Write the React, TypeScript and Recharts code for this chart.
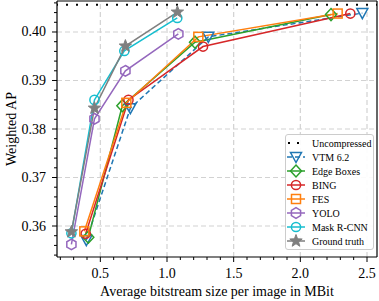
import React from 'react';
import { LineChart, Line, XAxis, YAxis, ReferenceLine, Legend, Label } from 'recharts';

// values (MBit, weighted AP)
const uncompressedAP = 0.4056;

const vtm = [
  { x: 0.395, y: 0.3571 },
  { x: 0.725, y: 0.3843 },
  { x: 1.31, y: 0.399 },
  { x: 2.465, y: 0.4039 },
];
const edgeBoxes = [
  { x: 0.41, y: 0.3577 },
  { x: 0.665, y: 0.3848 },
  { x: 1.21, y: 0.3979 },
  { x: 2.23, y: 0.4036 },
];
const bing = [
  { x: 0.39, y: 0.3584 },
  { x: 0.711, y: 0.386 },
  { x: 1.27, y: 0.397 },
  { x: 2.375, y: 0.4038 },
];
const fes = [
  { x: 0.38, y: 0.3589 },
  { x: 0.695, y: 0.3854 },
  { x: 1.235, y: 0.399 },
  { x: 2.28, y: 0.4038 },
];
const yolo = [
  { x: 0.283, y: 0.3562 },
  { x: 0.456, y: 0.3821 },
  { x: 0.688, y: 0.392 },
  { x: 1.085, y: 0.3996 },
];
const maskRcnn = [
  { x: 0.283, y: 0.3585 },
  { x: 0.456, y: 0.386 },
  { x: 0.68, y: 0.3961 },
  { x: 1.077, y: 0.4029 },
];
const groundTruth = [
  { x: 0.283, y: 0.3588 },
  { x: 0.456, y: 0.3843 },
  { x: 0.688, y: 0.3971 },
  { x: 1.078, y: 0.4041 },
];

const xMajor = [0.5, 1.0, 1.5, 2.0, 2.5];
const xTicks = [0.2, 0.3, 0.4, 0.5, 0.6, 0.7, 0.8, 0.9, 1.0, 1.1, 1.2, 1.3, 1.4, 1.5, 1.6, 1.7, 1.8, 1.9, 2.0, 2.1, 2.2, 2.3, 2.4, 2.5];
const yMajor = [0.36, 0.37, 0.38, 0.39, 0.4];
const yTicks = [0.354, 0.356, 0.358, 0.36, 0.362, 0.364, 0.366, 0.368, 0.37, 0.372, 0.374, 0.376, 0.378, 0.38,
  0.382, 0.384, 0.386, 0.388, 0.39, 0.392, 0.394, 0.396, 0.398, 0.4, 0.402, 0.404, 0.406];

const xDomain: [number, number] = [0.175, 2.575];
const yDomain: [number, number] = [0.35361, 0.40639];

const FONT = "'Liberation Serif', 'Times New Roman', serif";

type Shape = 'tri' | 'diamond' | 'circle' | 'square' | 'hex' | 'star';

const Marker = ({ shape, cx, cy, color }: { shape: Shape; cx: number; cy: number; color: string }) => {
  const sw = 1.5;
  switch (shape) {
    case 'tri':
      return <polygon points={`${cx - 5.5},${cy - 4.5} ${cx + 5.5},${cy - 4.5} ${cx},${cy + 5.5}`} fill="none" stroke={color} strokeWidth={sw} />;
    case 'diamond':
      return <polygon points={`${cx},${cy - 6} ${cx + 5.5},${cy} ${cx},${cy + 6} ${cx - 5.5},${cy}`} fill="none" stroke={color} strokeWidth={sw} />;
    case 'circle':
      return <circle cx={cx} cy={cy} r={4.6} fill="none" stroke={color} strokeWidth={sw} />;
    case 'square':
      return <rect x={cx - 4.5} y={cy - 4.5} width={9} height={9} fill="none" stroke={color} strokeWidth={sw} />;
    case 'hex': {
      const pts = [0, 1, 2, 3, 4, 5].map(i => {
        const a = (Math.PI / 3) * i - Math.PI / 2;
        return `${cx + 5.3 * Math.cos(a)},${cy + 5.3 * Math.sin(a)}`;
      });
      return <polygon points={pts.join(' ')} fill="none" stroke={color} strokeWidth={sw} />;
    }
    case 'star': {
      const pts = [];
      for (let i = 0; i < 10; i++) {
        const r = i % 2 === 0 ? 6.5 : 2.7;
        const a = (Math.PI / 5) * i - Math.PI / 2;
        pts.push(`${cx + r * Math.cos(a)},${cy + r * Math.sin(a)}`);
      }
      return <polygon points={pts.join(' ')} fill={color} stroke={color} strokeWidth={1} />;
    }
  }
  return null;
};

const series = [
  { name: 'VTM 6.2', data: vtm, color: '#1f77b4', shape: 'tri' as Shape, dash: '5 3' },
  { name: 'Edge Boxes', data: edgeBoxes, color: '#2ca02c', shape: 'diamond' as Shape },
  { name: 'BING', data: bing, color: '#d62728', shape: 'circle' as Shape },
  { name: 'FES', data: fes, color: '#ff7f0e', shape: 'square' as Shape },
  { name: 'YOLO', data: yolo, color: '#9467bd', shape: 'hex' as Shape },
  { name: 'Mask R-CNN', data: maskRcnn, color: '#17becf', shape: 'circle' as Shape },
  { name: 'Ground truth', data: groundTruth, color: '#7f7f7f', shape: 'star' as Shape },
];

const isMajorX = (v: number) => xMajor.some(m => Math.abs(m - v) < 1e-6);
const isMajorY = (v: number) => yMajor.some(m => Math.abs(m - v) < 1e-6);

const XTick = (props: any) => {
  const { x, y, payload } = props;
  const major = isMajorX(payload.value);
  return (
    <g>
      <line x1={x} x2={x} y1={y} y2={y + (major ? 5 : 3)} stroke="#000" strokeWidth={1} />
      {major && (
        <text x={x} y={y + 21} textAnchor="middle" fontFamily={FONT} fontSize={14} fill="#000">
          {payload.value.toFixed(1)}
        </text>
      )}
    </g>
  );
};

const YTick = (props: any) => {
  const { x, y, payload } = props;
  const major = isMajorY(payload.value);
  return (
    <g>
      <line x1={x - (major ? 5 : 3)} x2={x} y1={y} y2={y} stroke="#000" strokeWidth={1} />
      {major && (
        <text x={x - 11} y={y} textAnchor="end" dominantBaseline="central" fontFamily={FONT} fontSize={14} fill="#000">
          {payload.value.toFixed(2)}
        </text>
      )}
    </g>
  );
};

const LegendBox = () => (
  <svg width={90} height={117} style={{ display: 'block' }}>
    <rect x={0.5} y={0.5} width={88} height={115} rx={2.5} fill="rgba(255,255,255,0.9)" stroke="#cccccc" strokeWidth={1} />
    <line x1={3} x2={21} y1={9} y2={9} stroke="#000" strokeWidth={2} strokeDasharray="2 7" />
    <text x={27} y={9} dominantBaseline="central" fontFamily={FONT} fontSize={10} fill="#000">Uncompressed</text>
    {series.map((s, i) => {
      const cy = 23 + i * 14;
      return (
        <g key={s.name}>
          <line x1={2} x2={20} y1={cy} y2={cy} stroke={s.color} strokeWidth={1.5} strokeDasharray={s.dash} />
          <Marker shape={s.shape} cx={11} cy={cy} color={s.color} />
          <text x={27} y={cy} dominantBaseline="central" fontFamily={FONT} fontSize={10} fill="#000">{s.name}</text>
        </g>
      );
    })}
  </svg>
);

const gridStroke = '#d2d2d2';

export default function App() {
  return (
    <div style={{ position: 'absolute', left: 0, top: 0, width: 379, height: 301, background: '#fff' }}>
      <LineChart width={379} height={301} margin={{ top: 1, right: 2, bottom: 0, left: 0 }}>
        <XAxis
          type="number"
          dataKey="x"
          domain={xDomain}
          allowDataOverflow
          ticks={xTicks}
          interval={0}
          tick={<XTick />}
          tickLine={false}
          tickSize={0}
          tickMargin={0}
          height={44}
          axisLine={{ stroke: '#000', strokeWidth: 1.2 }}
        >
          <Label
            content={() => (
              <text x={217} y={296} textAnchor="middle" fontFamily={FONT} fontSize={14} fill="#000">
                Average bitstream size per image in MBit
              </text>
            )}
          />
        </XAxis>
        <YAxis
          type="number"
          dataKey="y"
          domain={yDomain}
          allowDataOverflow
          ticks={yTicks}
          interval={0}
          tick={<YTick />}
          tickLine={false}
          tickSize={0}
          tickMargin={0}
          width={57}
          axisLine={{ stroke: '#000', strokeWidth: 1.2 }}
        >
          <Label
            content={() => (
              <text x={11} y={129} transform="rotate(-90 11 129)" textAnchor="middle" dominantBaseline="central" fontFamily={FONT} fontSize={14} fill="#000">
                Weighted AP
              </text>
            )}
          />
        </YAxis>
        {xMajor.map(v => (
          <ReferenceLine key={`gx${v}`} x={v} stroke={gridStroke} strokeWidth={1.2} strokeDasharray="5 3" />
        ))}
        {yMajor.map(v => (
          <ReferenceLine key={`gy${v}`} y={v} stroke={gridStroke} strokeWidth={1.2} strokeDasharray="5 3" />
        ))}
        <ReferenceLine y={uncompressedAP} stroke="#000" strokeWidth={2} strokeDasharray="2 8" strokeDashoffset={-9} />
        <ReferenceLine x={xDomain[1]} stroke="#000" strokeWidth={1.2} ifOverflow="visible" />
        <ReferenceLine y={yDomain[1]} stroke="#000" strokeWidth={1.2} ifOverflow="visible" />
        {series.map(s => (
          <Line
            key={s.name}
            name={s.name}
            data={s.data}
            dataKey="y"
            type="linear"
            stroke={s.color}
            strokeWidth={1.5}
            strokeDasharray={s.dash}
            isAnimationActive={false}
            activeDot={false}
            dot={(p: any) => <Marker key={`${s.name}-${p.index}`} shape={s.shape} cx={p.cx} cy={p.cy} color={s.color} />}
          />
        ))}
        <Legend
          layout="horizontal"
          verticalAlign="middle"
          align="center"
          wrapperStyle={{ position: 'absolute', left: 285, top: 134, width: 90, height: 117 }}
          content={() => <LegendBox />}
        />
      </LineChart>
    </div>
  );
}
